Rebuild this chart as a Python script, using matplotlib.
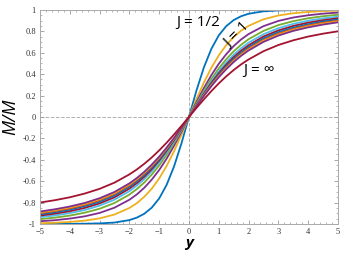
import numpy as np
import matplotlib
matplotlib.use('Agg')
import matplotlib.pyplot as plt
from matplotlib.ticker import MultipleLocator

# ============================================================
# 数据：Brillouin 曲线 M/M_s 对 y（读图估计，y>=0 一侧，奇函数镜像）
# ============================================================
y_pos = [0, 0.25, 0.5, 0.75, 1, 1.25, 1.5, 1.75, 2, 2.5, 3, 3.5, 4, 4.5, 5]

J_labels = ['1/2', '1', '3/2', '2', '5/2', '3', '7/2', '4', '9/2', '5', 'inf']
m_J_half = [0, .245, .462, .635, .762, .848, .905, .941, .964, .987, .995, .998, .999, 1.000, 1.000]
m_J_1 = [0, .165, .320, .458, .575, .671, .746, .806, .851, .912, .948, .969, .981, .989, .993]
m_J_3half = [0, .138, .269, .390, .496, .586, .662, .724, .774, .848, .897, .929, .950, .965, .975]
m_J_2 = [0, .124, .243, .354, .453, .539, .613, .674, .726, .804, .858, .895, .922, .941, .955]
m_J_5half = [0, .116, .228, .332, .426, .509, .581, .642, .694, .773, .829, .870, .899, .921, .937]
m_J_3 = [0, .110, .217, .317, .408, .489, .559, .619, .670, .751, .808, .850, .881, .904, .922]
m_J_7half = [0, .107, .210, .306, .395, .474, .543, .602, .653, .734, .792, .834, .866, .891, .910]
m_J_4 = [0, .104, .204, .298, .385, .462, .530, .589, .640, .720, .779, .822, .855, .880, .900]
m_J_9half = [0, .101, .200, .292, .377, .453, .520, .579, .629, .710, .768, .812, .845, .871, .891]
m_J_5 = [0, .100, .196, .287, .371, .446, .513, .571, .621, .701, .760, .804, .837, .863, .884]
m_J_inf = [0, .083, .164, .241, .313, .379, .438, .491, .537, .614, .672, .716, .751, .778, .800]

series = [m_J_half, m_J_1, m_J_3half, m_J_2, m_J_5half, m_J_3,
          m_J_7half, m_J_4, m_J_9half, m_J_5, m_J_inf]

# MATLAB 风格配色
colors = ['#0072BD', '#EDB120', '#7E2F8E', '#77AC30', '#4DBEEE', '#A2142F',
          '#0072BD', '#D95319', '#EDB120', '#7E2F8E', '#A2142F']


def mirror(xs, vs):
    """奇函数：把 y>=0 的点镜像到 y<0"""
    xs = np.asarray(xs, dtype=float)
    vs = np.asarray(vs, dtype=float)
    return (np.concatenate([-xs[:0:-1], xs]),
            np.concatenate([-vs[:0:-1], vs]))


fig = plt.figure(figsize=(3.48, 2.61), dpi=100)
ax = fig.add_axes([0.115, 0.142, 0.856, 0.820])

# 零线（虚线）
ax.axhline(0, color='#b0b0b0', linestyle='--', linewidth=0.7, zorder=0)
ax.axvline(0, color='#b0b0b0', linestyle='--', linewidth=0.7, zorder=0)

for vals, c in zip(series, colors):
    x, m = mirror(y_pos, vals)
    ax.plot(x, m, color=c, linewidth=1.3)

ax.set_xlim(-5, 5)
ax.set_ylim(-1, 1)
ax.xaxis.set_major_locator(MultipleLocator(1))
ax.xaxis.set_minor_locator(MultipleLocator(0.2))
ax.yaxis.set_minor_locator(MultipleLocator(0.05))
ax.set_yticks(np.arange(-1, 1.01, 0.2))
ax.set_yticklabels(['-1', '-0.8', '-0.6', '-0.4', '-0.2', '0',
                    '0.2', '0.4', '0.6', '0.8', '1'])

ax.tick_params(which='both', direction='in', top=True, right=True,
               color='#999999', labelcolor='#333333')
ax.tick_params(which='major', length=3, width=0.6, labelsize=6, pad=3)
ax.tick_params(which='minor', length=1.5, width=0.5)
for lab in ax.get_xticklabels() + ax.get_yticklabels():
    lab.set_family('Liberation Serif')
for spine in ax.spines.values():
    spine.set_color('#aaaaaa')
    spine.set_linewidth(0.7)

ax.set_ylabel('M/M', fontsize=13, style='italic', family='Open Sans',
              labelpad=2)
ax.set_xlabel('y', fontsize=11, style='italic', fontweight='bold',
              family='Open Sans', labelpad=0)

# 标注
ax.text(0.30, 0.88, 'J = 1/2', fontsize=11, family='Open Sans',
        ha='center', va='center')
ax.text(1.60, 0.77, 'J = 1', fontsize=11, family='Open Sans',
        ha='center', va='center', rotation=45)
ax.text(2.35, 0.43, 'J = \u221e', fontsize=11, family='Open Sans',
        ha='center', va='center')

fig.savefig('out.png', dpi=100)
